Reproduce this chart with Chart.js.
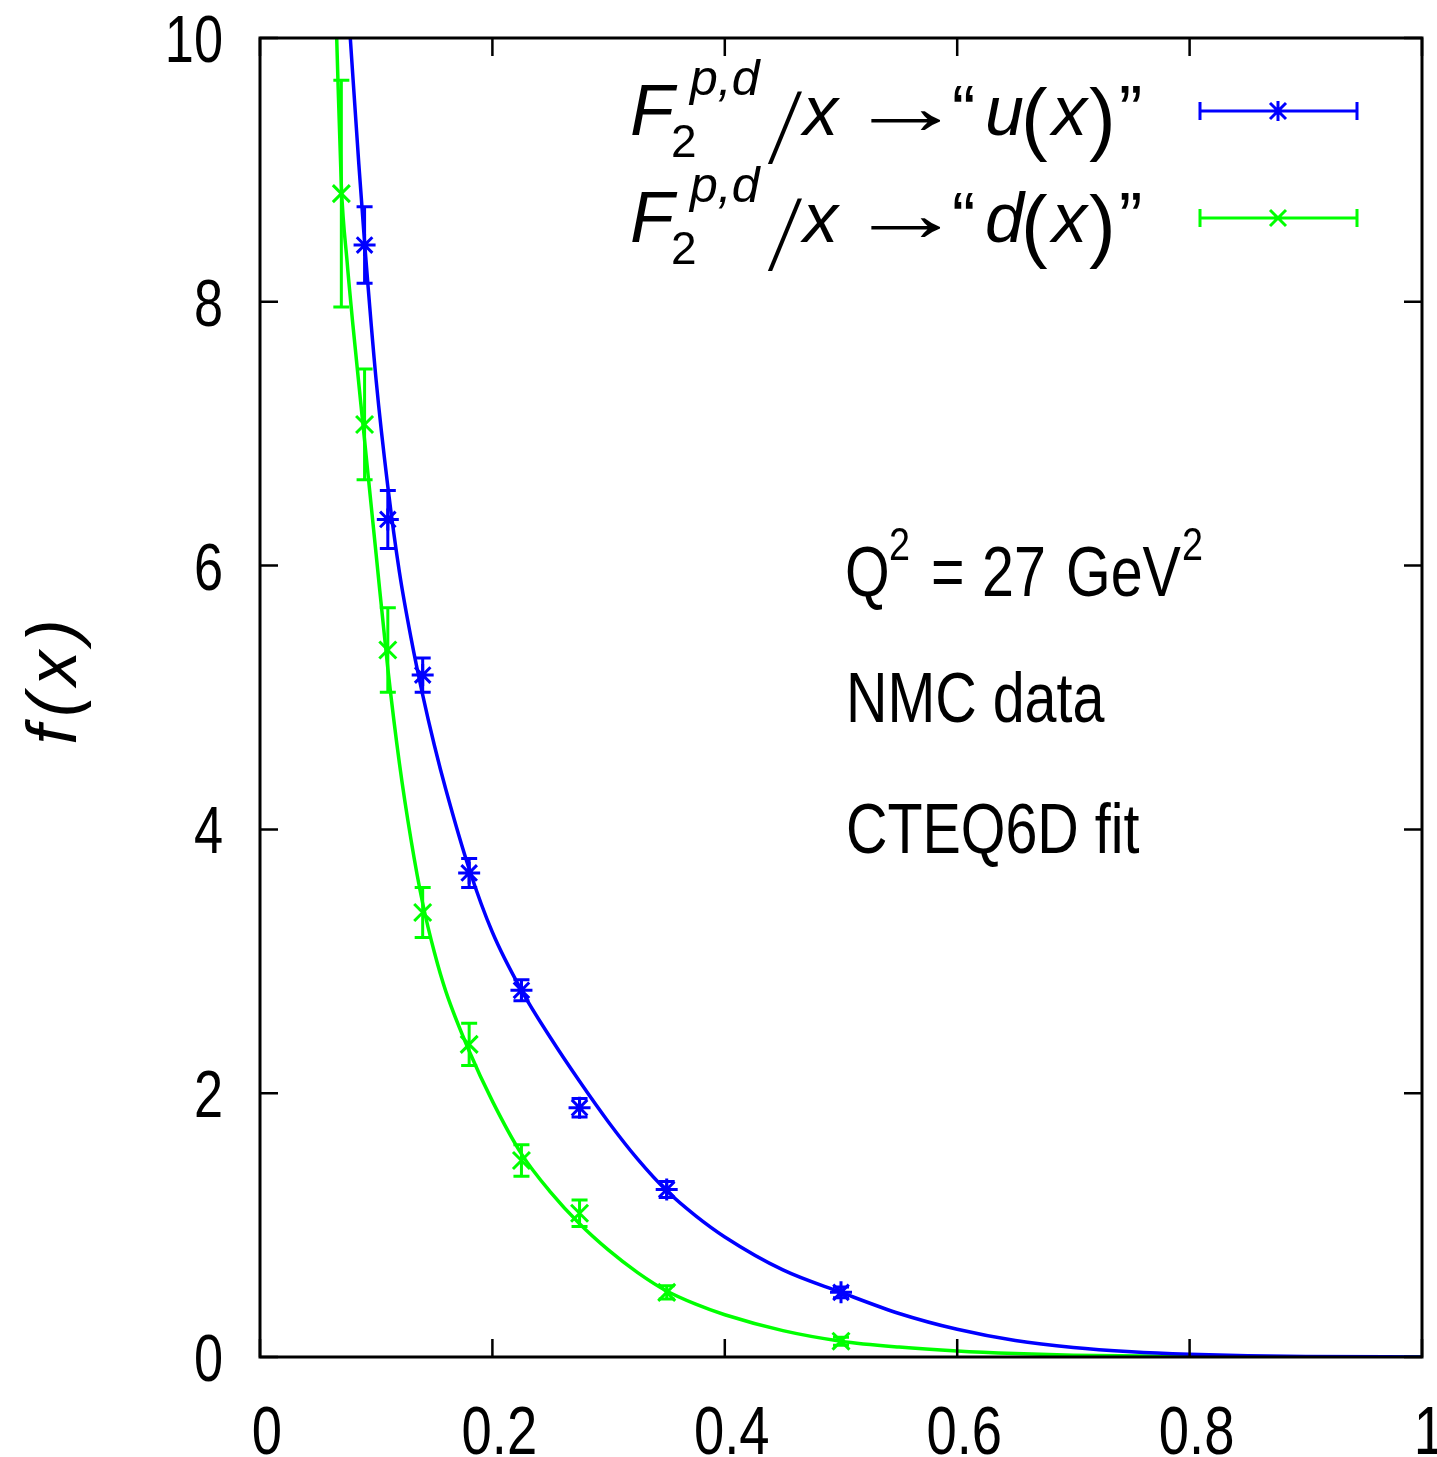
<!DOCTYPE html>
<html>
<head>
<meta charset="utf-8">
<title>f(x) - NMC data, CTEQ6D fit</title>
<script src="https://cdn.jsdelivr.net/npm/chart.js@4.4.1/dist/chart.umd.min.js"></script>
<style>
body { margin: 0; background: #ffffff; }
canvas { display: block; }
</style>
</head>
<body>
<canvas id="chart" width="1437" height="1457"></canvas>
<script>
const xTicks = [0, 0.2, 0.4, 0.6, 0.8, 1];
const yTicks = [0, 2, 4, 6, 8, 10];

// NMC points, F2/x -> "u(x)"
const uX = [0.09, 0.11, 0.14, 0.18, 0.225, 0.275, 0.35, 0.5];
const uY = [8.43, 6.35, 5.17, 3.67, 2.78, 1.89, 1.27, 0.49];
const uErr = [0.29, 0.22, 0.13, 0.11, 0.08, 0.07, 0.06, 0.04];

// NMC points, F2/x -> "d(x)"
const dX = [0.07, 0.09, 0.11, 0.14, 0.18, 0.225, 0.275, 0.35, 0.5];
const dY = [8.82, 7.07, 5.36, 3.37, 2.37, 1.49, 1.09, 0.49, 0.12];
const dErr = [0.86, 0.42, 0.32, 0.19, 0.16, 0.12, 0.1, 0.05, 0.03];

// CTEQ6D fit curves
const uFitX = [0.0777, 0.085, 0.09, 0.1, 0.11, 0.12, 0.13, 0.14, 0.15, 0.16, 0.18, 0.2, 0.225, 0.25, 0.275, 0.3, 0.325, 0.35, 0.375, 0.4, 0.45, 0.5, 0.55, 0.6, 0.65, 0.7, 0.75, 0.8, 0.85, 0.9, 1];
const uFitY = [10, 9.05, 8.45, 7.4, 6.6, 5.95, 5.45, 5.02, 4.64, 4.3, 3.7, 3.22, 2.78, 2.42, 2.09, 1.78, 1.5, 1.26, 1.07, 0.91, 0.66, 0.49, 0.33, 0.21, 0.125, 0.072, 0.04, 0.021, 0.01, 0.004, 0];
const dFitX = [0.066, 0.07, 0.075, 0.08, 0.09, 0.1, 0.11, 0.12, 0.13, 0.14, 0.15, 0.16, 0.18, 0.2, 0.225, 0.25, 0.275, 0.3, 0.325, 0.35, 0.375, 0.4, 0.45, 0.5, 0.55, 0.6, 0.65, 0.7, 0.8, 0.9, 1];
const dFitY = [10, 8.88, 8.3, 7.82, 6.95, 6.08, 5.22, 4.5, 3.92, 3.44, 3.07, 2.77, 2.32, 1.94, 1.54, 1.25, 1.01, 0.81, 0.64, 0.5, 0.4, 0.32, 0.2, 0.12, 0.075, 0.045, 0.026, 0.014, 0.003, 0.0005, 0];

const blue = '#0000ff';
const green = '#00ff00';

function pts(xs, ys) {
    return xs.map((v, i) => ({ x: v, y: ys[i] }));
}

// squeezed sans text, like the narrow helvetica of the original
function narrow(ctx, str, x, y, size, align, sx) {
    sx = sx || 0.82;
    ctx.save();
    ctx.font = size + 'px "Liberation Sans", Arial, sans-serif';
    ctx.textAlign = 'left';
    ctx.textBaseline = 'alphabetic';
    const w = ctx.measureText(str).width * sx;
    let x0 = x;
    if (align === 'right') x0 = x - w;
    else if (align === 'center') x0 = x - w / 2;
    ctx.translate(x0, y);
    ctx.scale(sx, 1);
    ctx.fillText(str, 0, 0);
    ctx.restore();
    return w;
}

function txt(ctx, str, x, y, font, sx) {
    ctx.save();
    ctx.font = font;
    ctx.textAlign = 'left';
    ctx.textBaseline = 'alphabetic';
    ctx.translate(x, y);
    if (sx) ctx.scale(sx, 1);
    ctx.fillText(str, 0, 0);
    ctx.restore();
}

function drawErr(ctx, xs, ys, es, sx, sy, color) {
    ctx.save();
    ctx.strokeStyle = color;
    ctx.lineWidth = 3;
    for (let i = 0; i < xs.length; i++) {
        const px = sx.getPixelForValue(xs[i]);
        const top = sy.getPixelForValue(ys[i] + es[i]);
        const bot = sy.getPixelForValue(ys[i] - es[i]);
        ctx.beginPath();
        ctx.moveTo(px, top); ctx.lineTo(px, bot);
        ctx.moveTo(px - 8, top); ctx.lineTo(px + 8, top);
        ctx.moveTo(px - 8, bot); ctx.lineTo(px + 8, bot);
        ctx.stroke();
    }
    ctx.restore();
}

function legendKey(ctx, yy, color, star) {
    ctx.save();
    ctx.strokeStyle = color;
    ctx.lineWidth = 3;
    ctx.beginPath();
    ctx.moveTo(1200, yy); ctx.lineTo(1357, yy);
    ctx.moveTo(1200, yy - 9); ctx.lineTo(1200, yy + 9);
    ctx.moveTo(1357, yy - 9); ctx.lineTo(1357, yy + 9);
    const c = 1278, r = 8;
    ctx.moveTo(c - r, yy - r); ctx.lineTo(c + r, yy + r);
    ctx.moveTo(c - r, yy + r); ctx.lineTo(c + r, yy - r);
    if (star) { ctx.moveTo(c, yy - 10); ctx.lineTo(c, yy + 10); }
    ctx.stroke();
    ctx.restore();
}

function legendLine(ctx, base, letter) {
    const it = (s) => 'italic ' + s + 'px "Liberation Sans", Arial, sans-serif';
    const up = (s) => s + 'px "Liberation Sans", Arial, sans-serif';
    txt(ctx, 'F', 630, base, it(72));
    txt(ctx, '2', 671, base + 22, up(46));
    txt(ctx, 'p,d', 690, base - 40, it(50));
    txt(ctx, '\u2571', 770, base + 14, '62px "DejaVu Sans Mono", monospace', 0.8);
    txt(ctx, 'x', 803, base, it(70));
    txt(ctx, '\u2192', 848, base - 1, up(80), 1.45);
    txt(ctx, '\u201C', 952, base, up(70));
    txt(ctx, letter, 985, base, it(70));
    txt(ctx, '(', 1021, base + 10, up(80));
    txt(ctx, 'x', 1052, base, it(70));
    txt(ctx, ')', 1089, base + 10, up(80));
    txt(ctx, '\u201D', 1119, base, up(70));
}

const overlay = {
    id: 'overlay',
    beforeDatasetsDraw(chart) {
        const { ctx, scales: { x, y } } = chart;
        drawErr(ctx, uX, uY, uErr, x, y, blue);
        drawErr(ctx, dX, dY, dErr, x, y, green);
    },
    afterDraw(chart) {
        const { ctx, chartArea: a, scales: { x, y } } = chart;
        ctx.save();
        ctx.fillStyle = '#000';
        ctx.strokeStyle = '#000';

        // inward ticks on all four sides
        ctx.lineWidth = 2.5;
        ctx.beginPath();
        xTicks.forEach(v => {
            const px = x.getPixelForValue(v);
            ctx.moveTo(px, a.bottom); ctx.lineTo(px, a.bottom - 18);
            ctx.moveTo(px, a.top); ctx.lineTo(px, a.top + 18);
        });
        yTicks.forEach(v => {
            const py = y.getPixelForValue(v);
            ctx.moveTo(a.left, py); ctx.lineTo(a.left + 18, py);
            ctx.moveTo(a.right, py); ctx.lineTo(a.right - 18, py);
        });
        ctx.stroke();

        // frame
        ctx.lineWidth = 3;
        ctx.strokeRect(a.left, a.top, a.right - a.left, a.bottom - a.top);

        // tick labels
        xTicks.forEach(v => {
            narrow(ctx, String(v), x.getPixelForValue(v) + 7, a.bottom + 97, 68, 'center', 0.8);
        });
        yTicks.forEach(v => {
            narrow(ctx, String(v), a.left - 37, y.getPixelForValue(v) + 24, 67, 'right', 0.78);
        });

        // y axis title
        ctx.save();
        ctx.translate(76, 678);
        ctx.rotate(-Math.PI / 2);
        ctx.font = 'italic 70px "Liberation Sans", Arial, sans-serif';
        ctx.letterSpacing = '8px';
        ctx.textAlign = 'center';
        ctx.textBaseline = 'alphabetic';
        ctx.fillText('f(x)', 0, 0);
        ctx.restore();

        // legend
        legendLine(ctx, 135, 'u');
        legendLine(ctx, 242, 'd');
        legendKey(ctx, 111, blue, true);
        legendKey(ctx, 218, green, false);

        // annotations
        ctx.fillStyle = '#000';
        narrow(ctx, 'Q', 845, 596, 70);
        narrow(ctx, '2', 889, 560, 46);
        narrow(ctx, '=', 931, 596, 70);
        narrow(ctx, '27', 982, 596, 70);
        narrow(ctx, 'GeV', 1066, 596, 70);
        narrow(ctx, '2', 1182, 560, 46);
        narrow(ctx, 'NMC data', 846, 722, 70);
        narrow(ctx, 'CTEQ6D fit', 846, 853, 70);
        ctx.restore();
    }
};

const chart = new Chart(document.getElementById('chart'), {
    type: 'scatter',
    data: {
        datasets: [
            {
                type: 'line', data: pts(uFitX, uFitY), borderColor: blue, borderWidth: 3.5,
                pointRadius: 0, cubicInterpolationMode: 'monotone', fill: false
            },
            {
                type: 'line', data: pts(dFitX, dFitY), borderColor: green, borderWidth: 3.5,
                pointRadius: 0, cubicInterpolationMode: 'monotone', fill: false
            },
            {
                data: pts(uX, uY), pointStyle: 'star', pointRadius: 11, borderColor: blue,
                backgroundColor: blue, pointBorderWidth: 3, showLine: false
            },
            {
                data: pts(dX, dY), pointStyle: 'crossRot', pointRadius: 12, borderColor: green,
                backgroundColor: green, pointBorderWidth: 3, showLine: false
            }
        ]
    },
    options: {
        responsive: false,
        animation: false,
        devicePixelRatio: 1,
        layout: { padding: { left: 260, right: 5, top: 38, bottom: 100 } },
        plugins: { legend: { display: false }, tooltip: { enabled: false } },
        scales: {
            x: {
                type: 'linear', min: 0, max: 1,
                grid: { display: false }, border: { display: false }, ticks: { display: false },
                afterFit: s => { s.height = 0; }
            },
            y: {
                type: 'linear', min: 0, max: 10,
                grid: { display: false }, border: { display: false }, ticks: { display: false },
                afterFit: s => { s.width = 0; }
            }
        }
    },
    plugins: [overlay]
});
</script>
</body>
</html>
